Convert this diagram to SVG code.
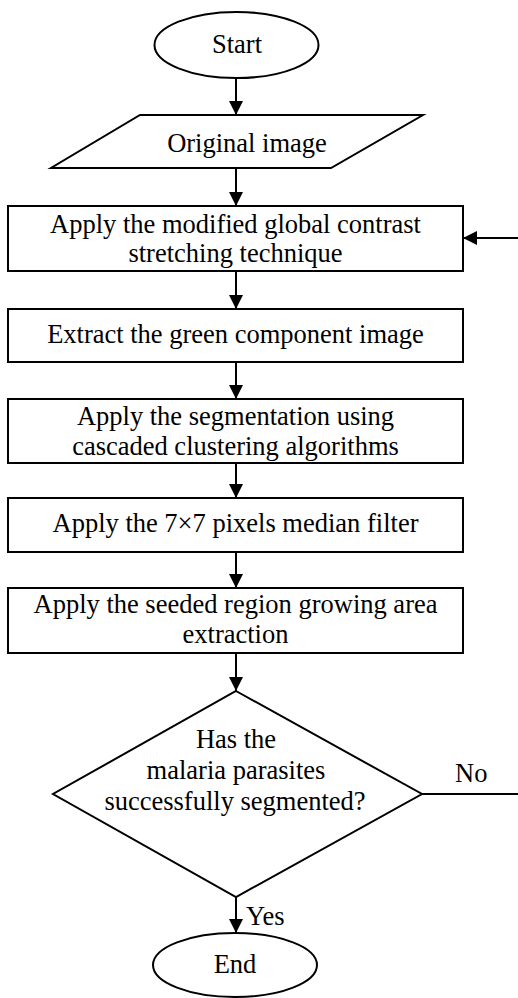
<svg xmlns="http://www.w3.org/2000/svg" width="518" height="998" viewBox="0 0 518 998">
<defs>
<marker id="ah" viewBox="0 0 14 14" refX="14" refY="7" markerWidth="14" markerHeight="14" markerUnits="userSpaceOnUse" orient="auto">
<path d="M0,0 L14,7 L0,14 Z" fill="#000"/>
</marker>
</defs>
<style>
.s{fill:#fff;stroke:#000;stroke-width:2}
text{font-family:'Liberation Serif','Times New Roman',serif;font-size:26.5px;fill:#000}
.t{text-anchor:middle}
.c{fill:none;stroke:#000;stroke-width:2}
</style>
<rect width="518" height="998" fill="#fff"/>
<g id="connectors">
<line class="c" x1="236" y1="78" x2="236" y2="115" marker-end="url(#ah)"/>
<line class="c" x1="236" y1="168" x2="236" y2="206" marker-end="url(#ah)"/>
<line class="c" x1="236" y1="271" x2="236" y2="309" marker-end="url(#ah)"/>
<line class="c" x1="236" y1="362" x2="236" y2="399" marker-end="url(#ah)"/>
<line class="c" x1="236" y1="463" x2="236" y2="498" marker-end="url(#ah)"/>
<line class="c" x1="236" y1="552" x2="236" y2="588" marker-end="url(#ah)"/>
<line class="c" x1="236" y1="653" x2="236" y2="691" marker-end="url(#ah)"/>
<line class="c" x1="236" y1="897" x2="236" y2="933" marker-end="url(#ah)"/>
<line class="c" x1="422" y1="794" x2="518" y2="794"/>
<line class="c" x1="518" y1="238" x2="463" y2="238" marker-end="url(#ah)"/>
<text x="455" y="782">No</text>
<text x="246" y="925">Yes</text>
</g>
<g id="start">
<ellipse class="s" cx="236.5" cy="45" rx="82" ry="33"/>
<text class="t" x="237" y="53">Start</text>
</g>
<g id="input">
<polygon class="s" points="140,115 423,115 331,168 51,168"/>
<text class="t" x="247" y="152">Original image</text>
</g>
<g id="step1">
<rect class="s" x="8" y="206" width="455" height="65"/>
<text class="t" x="235.5" y="233">Apply the modified global contrast</text>
<text class="t" x="235.5" y="262">stretching technique</text>
</g>
<g id="step2">
<rect class="s" x="8" y="309" width="455" height="53"/>
<text class="t" x="235.5" y="343">Extract the green component image</text>
</g>
<g id="step3">
<rect class="s" x="8" y="399" width="455" height="64"/>
<text class="t" x="235.5" y="425">Apply the segmentation using</text>
<text class="t" x="235.5" y="455">cascaded clustering algorithms</text>
</g>
<g id="step4">
<rect class="s" x="8" y="498" width="455" height="54"/>
<text class="t" x="235.5" y="532">Apply the 7×7 pixels median filter</text>
</g>
<g id="step5">
<rect class="s" x="8" y="588" width="455" height="65"/>
<text class="t" x="235.5" y="613">Apply the seeded region growing area</text>
<text class="t" x="235.5" y="643">extraction</text>
</g>
<g id="decision">
<polygon class="s" points="236,691 422,794 236,897 53,794"/>
<text class="t" x="236" y="748">Has the</text>
<text class="t" x="236" y="779">malaria parasites</text>
<text class="t" x="235" y="810">successfully segmented?</text>
</g>
<g id="end">
<ellipse class="s" cx="235" cy="965" rx="82" ry="32"/>
<text class="t" x="235" y="973">End</text>
</g>
</svg>
